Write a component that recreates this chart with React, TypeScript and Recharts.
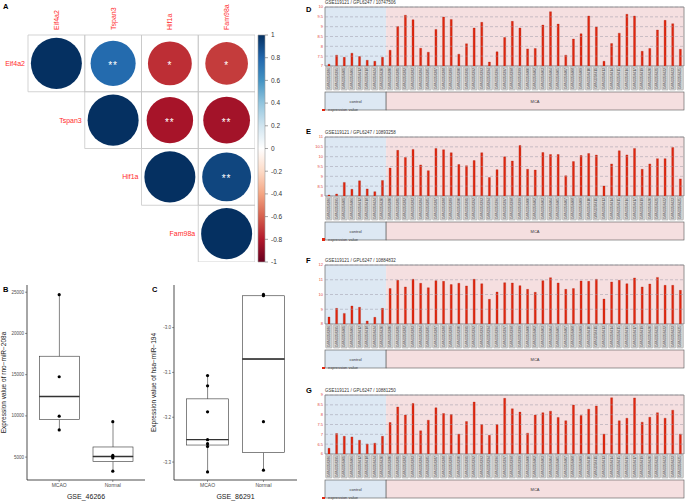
import React from "react";
import {
  ComposedChart,
  ScatterChart,
  BarChart,
  Bar,
  Scatter,
  XAxis,
  YAxis,
  ZAxis,
  ReferenceArea,
  ReferenceLine,
} from "recharts";

const FONT = "'Liberation Sans', Arial, Helvetica, sans-serif";
const LABEL_RED = "#ff2b2b";

// ---------- A: correlation matrix ----------
const genes = ["Eif4a2", "Tspan3", "Hif1a", "Fam98a"];
const corrRow = [0, 0, 0, 0, 1, 1, 1, 2, 2, 3];
const corrCol = [0, 1, 2, 3, 1, 2, 3, 2, 3, 3];
const corrVal = [1, 0.78, -0.74, -0.7, 1, -0.83, -0.84, 1, 0.92, 1];
const corrSig = ["", "**", "*", "*", "", "**", "**", "", "**", ""];
const colorbarTicks = [1, 0.8, 0.6, 0.4, 0.2, 0, -0.2, -0.4, -0.6, -0.8, -1];
// RdBu palette, from +1 (top) to -1 (bottom)
const rdbu = ["#053061", "#2166AC", "#4393C3", "#92C5DE", "#D1E5F0", "#FFFFFF", "#FDDBC7", "#F4A582", "#D6604D", "#B2182B", "#67001F"];

// ---------- B / C: box plots ----------
const boxGroups = ["MCAO", "Normal"];
const bMin = [8300, 3300];
const bQ1 = [9545, 4470];
const bMed = [12355, 5080];
const bQ3 = [17237, 6230];
const bMax = [24700, 9300];
const bMcaoPts = [24700, 14750, 9960, 8300];
const bNormalPts = [9300, 5200, 5050, 4900, 3300];
const bTicks = [5000, 10000, 15000, 20000, 25000];

const cMin = [-3.322, -3.318];
const cQ1 = [-3.262, -3.279];
const cMed = [-3.25, -3.07];
const cQ3 = [-3.159, -2.929];
const cMax = [-3.107, -2.927];
const cMcaoPts = [-3.107, -3.13, -3.188, -3.25, -3.259, -3.265, -3.322];
const cNormalPts = [-2.926, -2.929, -3.21, -3.318];
const cTicks = [-3.3, -3.2, -3.1, -3.0];

// ---------- D-G: GEO profiles ----------
const ctrlSamples = ["GSM3358386", "GSM3358395", "GSM3358401", "GSM3358406", "GSM3358412", "GSM3358418", "GSM3358424", "GSM3358430"];
const mcaSamples = [
  "GSM3358380", "GSM3358381", "GSM3358382", "GSM3358383", "GSM3358384", "GSM3358385", "GSM3358387", "GSM3358388",
  "GSM3358389", "GSM3358390", "GSM3358391", "GSM3358392", "GSM3358393", "GSM3358394", "GSM3358396", "GSM3358397",
  "GSM3358398", "GSM3358399", "GSM3358400", "GSM3358402", "GSM3358403", "GSM3358404", "GSM3358405", "GSM3358407",
  "GSM3358408", "GSM3358409", "GSM3358410", "GSM3358411", "GSM3358413", "GSM3358414", "GSM3358415", "GSM3358416",
  "GSM3358417", "GSM3358419", "GSM3358420", "GSM3358421", "GSM3358422", "GSM3358423", "GSM3358425",
];

const dCtrl = [7.09, 7.55, 7.44, 7.65, 7.48, 7.29, 7.24, 7.44];
const dMca = [7.8, 9.01, 9.58, 9.35, 7.9, 7.7, 8.86, 9.49, 9.37, 7.6, 8.13, 8.93, 9.22, 7.2, 7.72, 8.45, 9.27, 8.93, 7.87, 7.89, 9.08, 9.76, 9.13, 7.55, 8.37, 8.64, 9.54, 8.98, 7.24, 8.14, 8.67, 9.63, 9.54, 7.75, 7.89, 8.83, 9.32, 9.15, 7.85];
const dTicks = [7, 7.5, 8, 8.5, 9, 9.5, 10];

const eCtrl = [8.05, 8.1, 8.69, 8.34, 8.77, 8.36, 8.22, 8.79];
const eMca = [9.42, 10.32, 9.96, 10.37, 9.58, 9.29, 10.42, 10.35, 10.2, 9.6, 9.54, 9.8, 10.2, 8.94, 9.34, 9.99, 9.78, 10.57, 9.36, 9.32, 10.21, 10.11, 10.11, 9.03, 9.75, 10.06, 10.16, 10.08, 8.51, 9.63, 10.3, 10.09, 10.42, 9.36, 9.63, 9.9, 9.9, 10.47, 8.87];
const eTicks = [8, 8.5, 9, 9.5, 10, 10.5, 11];

const fCtrl = [8.47, 9.06, 8.72, 9.22, 9.13, 8.2, 8.45, 9.06];
const fMca = [10.4, 10.96, 10.51, 11.03, 10.76, 10.46, 10.94, 10.89, 10.67, 10.76, 10.58, 11.03, 10.73, 9.67, 10.17, 10.8, 10.78, 10.6, 10.35, 10.15, 10.94, 11.14, 10.78, 10.35, 10.4, 10.92, 10.89, 11.03, 9.69, 10.85, 10.96, 10.73, 11.12, 10.51, 10.71, 11.16, 10.62, 10.62, 10.28];
const fTicks = [8, 9, 10, 11, 12];

const gCtrl = [6.29, 7.04, 6.9, 6.87, 6.7, 6.51, 6.55, 6.9];
const gMca = [7.6, 8.39, 7.98, 8.57, 7.18, 7.72, 8.35, 8.06, 8.01, 7.01, 7.65, 8.64, 7.5, 6.95, 7.5, 8.83, 8.3, 8.13, 7.06, 7.98, 8.1, 8.18, 7.86, 7.69, 8.49, 7.96, 8.28, 8.44, 7.01, 8.86, 7.69, 7.82, 8.85, 7.62, 7.87, 8.1, 7.82, 8.23, 7.01];
const gTicks = [6, 6.5, 7, 7.5, 8, 8.5, 9];

// ---------- helpers ----------
const hexRgb = (h: string) => [1, 3, 5].map((k) => parseInt(h.slice(k, k + 2), 16));

function corrColor(r: number) {
  const t = ((1 - r) / 2) * (rdbu.length - 1);
  const i = Math.min(Math.floor(t), rdbu.length - 2);
  const f = t - i;
  const a = hexRgb(rdbu[i]);
  const b = hexRgb(rdbu[i + 1]);
  return `rgb(${a.map((v, k) => Math.round(v + (b[k] - v) * f)).join(",")})`;
}

const corrData = corrVal.map((v, k) => ({ x: corrCol[k], y: corrRow[k], r: v, a: Math.abs(v), sig: corrSig[k] }));
const rowLabelData = genes.map((g, i) => ({ x: i - 0.5, y: i, label: g }));

const CorrCircle = (p: any) => {
  const rad = p.size ? Math.sqrt(p.size / Math.PI) : (p.width || 0) / 2;
  const d = p.payload;
  return (
    <g>
      <circle cx={p.cx} cy={p.cy} r={rad} fill={corrColor(d.r)} />
      {d.sig ? (
        <text x={p.cx} y={p.cy + 5.5} textAnchor="middle" fontSize={10} fill="#fff" letterSpacing={1}>
          {d.sig}
        </text>
      ) : null}
    </g>
  );
};

const RowLabel = (p: any) => (
  <text x={p.cx - 3} y={p.cy + 2.5} textAnchor="end" fontSize={7} fill={LABEL_RED}>
    {p.payload.label}
  </text>
);

const ColTick = (p: any) => (
  <text transform={`translate(${p.x + 2.5},${p.y - 5}) rotate(-90)`} fontSize={7} fill={LABEL_RED}>
    {genes[p.payload.value]}
  </text>
);

function CorrPanel() {
  return (
    <>
      <div style={{ position: "absolute", left: 0, top: 0 }}>
        <ScatterChart width={255} height={262} margin={{ top: 0, right: 0, bottom: 0, left: 28 }}>
          <XAxis type="number" dataKey="x" orientation="top" domain={[-0.5, 3.5]} ticks={[0, 1, 2, 3]} height={35} tickSize={0} tickMargin={0} axisLine={false} tickLine={false} tick={ColTick} interval={0} />
          <YAxis type="number" dataKey="y" domain={[-0.5, 3.5]} reversed hide />
          <ZAxis type="number" dataKey="a" domain={[0, 1]} range={[0, 2043]} />
          {corrData.map((d, k) => (
            <ReferenceArea key={k} x1={d.x - 0.5} x2={d.x + 0.5} y1={d.y - 0.5} y2={d.y + 0.5} fill="none" stroke="#c8c8c8" strokeWidth={0.8} />
          ))}
          <Scatter data={corrData} shape={CorrCircle} isAnimationActive={false} />
          <Scatter data={rowLabelData} shape={RowLabel} isAnimationActive={false} />
        </ScatterChart>
      </div>
      <div style={{ position: "absolute", left: 250, top: 0 }}>
        <BarChart width={50} height={270} data={[{ k: "cb", lo: colorbarTicks[colorbarTicks.length - 1], hi: colorbarTicks[0] }]} margin={{ top: 35, right: 0, bottom: 8, left: 8 }} barCategoryGap={0}>
          <XAxis dataKey="k" hide />
          <YAxis orientation="right" type="number" domain={[-1, 1]} ticks={colorbarTicks} width={35} axisLine={false} tickSize={3} tickMargin={3} tickLine={{ stroke: "#666", strokeWidth: 0.6 }} tick={{ fontSize: 6.5, fill: "#333" }} interval={0} />
          <Bar dataKey={(d: any) => [d.lo, d.hi]} fill="url(#rdbuGrad)" stroke="#9a9a9a" strokeWidth={0.6} isAnimationActive={false} />
        </BarChart>
      </div>
    </>
  );
}

// ---------- box plot ----------
const Empty = () => <g />;
const Whisker = (p: any) =>
  p.height > 0 ? <line x1={p.x + p.width / 2} x2={p.x + p.width / 2} y1={p.y} y2={p.y + p.height} stroke="#333" strokeWidth={0.6} /> : <g />;
const BoxLow = (p: any) => <rect x={p.x} y={p.y} width={p.width} height={Math.max(p.height, 0)} fill="#fff" stroke="#333" strokeWidth={0.6} />;
const BoxHigh = (p: any) => (
  <g>
    <rect x={p.x} y={p.y} width={p.width} height={Math.max(p.height, 0)} fill="#fff" stroke="#333" strokeWidth={0.6} />
    <line x1={p.x} x2={p.x + p.width} y1={p.y + p.height} y2={p.y + p.height} stroke="#333" strokeWidth={1.4} />
  </g>
);
const Dot = (p: any) => <circle cx={p.cx} cy={p.cy} r={1.6} fill="#000" />;

function BoxPanel(props: any) {
  const { left, width, yWidth, mins, q1s, meds, q3s, maxs, pts, domain, ticks, fmt, yTitle, xTitle, barSize, pad } = props;
  const rows = boxGroups.map((g, i) => ({
    g,
    base: mins[i],
    w1: q1s[i] - mins[i],
    b1: meds[i] - q1s[i],
    b2: q3s[i] - meds[i],
    w2: maxs[i] - q3s[i],
  }));
  return (
    <div style={{ position: "absolute", left, top: 280 }}>
      <ComposedChart width={width} height={221} data={rows} margin={{ top: 5, right: 0, bottom: 0, left: 0 }}>
        <XAxis
          dataKey="g"
          type="category"
          allowDuplicatedCategory={false}
          height={21}
          padding={{ left: pad, right: pad }}
          tick={{ fontSize: 5, fill: "#4d4d4d" }}
          tickSize={2}
          tickMargin={1}
          axisLine={{ stroke: "#000", strokeWidth: 0.7 }}
          tickLine={{ stroke: "#333", strokeWidth: 0.5 }}
          label={{ value: xTitle, position: "insideBottom", offset: 2, fontSize: 7, fill: "#1a1a1a" }}
        />
        <YAxis
          type="number"
          domain={domain}
          allowDataOverflow
          ticks={ticks}
          tickFormatter={fmt}
          width={yWidth}
          tick={{ fontSize: 4.5, fill: "#4d4d4d" }}
          tickSize={2}
          tickMargin={1}
          axisLine={{ stroke: "#000", strokeWidth: 0.7 }}
          tickLine={{ stroke: "#333", strokeWidth: 0.5 }}
          label={{ value: yTitle, angle: -90, position: "insideLeft", offset: 4, style: { textAnchor: "middle" }, fontSize: 6.5, fill: "#1a1a1a" }}
        />
        <Bar dataKey="base" stackId="box" barSize={barSize} shape={Empty} isAnimationActive={false} />
        <Bar dataKey="w1" stackId="box" barSize={barSize} shape={Whisker} isAnimationActive={false} />
        <Bar dataKey="b1" stackId="box" barSize={barSize} shape={BoxLow} isAnimationActive={false} />
        <Bar dataKey="b2" stackId="box" barSize={barSize} shape={BoxHigh} isAnimationActive={false} />
        <Bar dataKey="w2" stackId="box" barSize={barSize} shape={Whisker} isAnimationActive={false} />
        <Scatter data={pts} dataKey="v" shape={Dot} isAnimationActive={false} />
      </ComposedChart>
    </div>
  );
}

// ---------- GEO profile ----------
const GEO_PLOT_W = 359;
const allSamples = [...ctrlSamples, ...mcaSamples];

function makeSampleTick() {
  const band = GEO_PLOT_W / allSamples.length;
  return (p: any) => {
    const { x, y, payload } = p;
    let group: any = null;
    if (payload.value === ctrlSamples[0]) group = { name: "control", n: ctrlSamples.length, fill: "#dde8f3" };
    if (payload.value === mcaSamples[0]) group = { name: "MCA", n: mcaSamples.length, fill: "#f5dfe0" };
    return (
      <g>
        <rect x={x - band / 2 + 0.6} y={y + 1} width={band - 1.2} height={23} rx={0.8} fill="#d4d4d4" stroke="#8a8a8a" strokeWidth={0.4} />
        <text transform={`translate(${x + 1.2},${y + 12.5}) rotate(-90)`} textAnchor="middle" fontSize={3.4} fill="#444">
          {payload.value}
        </text>
        {group ? (
          <g>
            <rect x={x - band / 2} y={y + 26} width={group.n * band} height={18} fill={group.fill} stroke="#555" strokeWidth={0.6} />
            <text x={x - band / 2 + (group.n * band) / 2} y={y + 36.5} textAnchor="middle" fontSize={4} fill="#333">
              {group.name}
            </text>
          </g>
        ) : null}
      </g>
    );
  };
}

function GeoPanel(props: any) {
  const { top, title, ctrl, mca, ticks } = props;
  const vals = [...ctrl, ...mca];
  const data = allSamples.map((s, i) => ({ s, v: vals[i] }));
  return (
    <>
      <div style={{ position: "absolute", left: 325, top, fontSize: 4.5, lineHeight: "6px", color: "#333", whiteSpace: "nowrap" }}>{title}</div>
      <div style={{ position: "absolute", left: 305, top }}>
        <ComposedChart width={380} height={116} data={data} margin={{ top: 7, right: 1, bottom: 0, left: 0 }}>
          <XAxis dataKey="s" type="category" interval={0} height={50} tickSize={0} tickMargin={0} axisLine={false} tickLine={false} tick={makeSampleTick()} />
          <YAxis type="number" domain={[ticks[0], ticks[ticks.length - 1]]} allowDataOverflow ticks={ticks} width={20} axisLine={false} tickLine={false} tickSize={1} tickMargin={1} tick={{ fontSize: 4, fill: "#e0443a" }} interval={0} />
          <ReferenceArea x1={ctrlSamples[0]} x2={ctrlSamples[ctrlSamples.length - 1]} fill="#dde8f3" fillOpacity={1} />
          <ReferenceArea x1={mcaSamples[0]} x2={mcaSamples[mcaSamples.length - 1]} fill="#f5dfe0" fillOpacity={1} />
          {ticks.map((t: number) => (
            <ReferenceLine key={t} y={t} stroke="#9c9aa8" strokeWidth={0.5} strokeDasharray="3 2" />
          ))}
          <Bar dataKey="v" barSize={2} fill="#e2260f" stroke="#a81a08" strokeWidth={0.3} isAnimationActive={false} />
          <ReferenceArea x1={allSamples[0]} x2={allSamples[allSamples.length - 1]} fill="none" stroke="#7a7a7a" strokeWidth={0.8} />
        </ComposedChart>
      </div>
      <div style={{ position: "absolute", left: 322, top: top + 108.5, width: 2.5, height: 2.5, background: "#e2260f" }} />
      <div style={{ position: "absolute", left: 328, top: top + 107, fontSize: 4, lineHeight: "5px", color: "#444", whiteSpace: "nowrap" }}>expression value</div>
    </>
  );
}

const letter = (t: string, left: number, top: number) => (
  <div style={{ position: "absolute", left, top, fontSize: 7.5, fontWeight: "bold", lineHeight: "8px" }}>{t}</div>
);

export default function App() {
  const bPts = [...bMcaoPts.map((v) => ({ g: boxGroups[0], v })), ...bNormalPts.map((v) => ({ g: boxGroups[1], v }))];
  const cPts = [...cMcaoPts.map((v) => ({ g: boxGroups[0], v })), ...cNormalPts.map((v) => ({ g: boxGroups[1], v }))];
  return (
    <div style={{ position: "absolute", left: 0, top: 0, width: 685, height: 501, background: "#fff", fontFamily: FONT, overflow: "hidden" }}>
      <svg width={0} height={0} style={{ position: "absolute" }}>
        <defs>
          <linearGradient id="rdbuGrad" x1="0" y1="0" x2="0" y2="1">
            {rdbu.map((c, i) => (
              <stop key={i} offset={i / (rdbu.length - 1)} stopColor={c} />
            ))}
          </linearGradient>
        </defs>
      </svg>
      <CorrPanel />
      <BoxPanel
        left={0}
        width={145}
        yWidth={27}
        pad={5.4}
        barSize={40}
        mins={bMin}
        q1s={bQ1}
        meds={bMed}
        q3s={bQ3}
        maxs={bMax}
        pts={bPts}
        domain={[2225, 25875]}
        ticks={bTicks}
        fmt={(v: number) => String(v)}
        yTitle="Expression value of rno−miR−208a"
        xTitle="GSE_46266"
      />
      <BoxPanel
        left={150}
        width={147}
        yWidth={24}
        pad={5.6}
        barSize={42}
        mins={cMin}
        q1s={cQ1}
        meds={cMed}
        q3s={cQ3}
        maxs={cMax}
        pts={cPts}
        domain={[-3.34, -2.905]}
        ticks={cTicks}
        fmt={(v: number) => v.toFixed(1)}
        yTitle="Expression value of hsa−miR−194"
        xTitle="GSE_86291"
      />
      <GeoPanel top={0} title="GSE119121 / GPL6247 / 10747506" ctrl={dCtrl} mca={dMca} ticks={dTicks} />
      <GeoPanel top={129.7} title="GSE119121 / GPL6247 / 10893258" ctrl={eCtrl} mca={eMca} ticks={eTicks} />
      <GeoPanel top={258} title="GSE119121 / GPL6247 / 10884832" ctrl={fCtrl} mca={fMca} ticks={fTicks} />
      <GeoPanel top={388} title="GSE119121 / GPL6247 / 10881250" ctrl={gCtrl} mca={gMca} ticks={gTicks} />
      {letter("A", 3, 3)}
      {letter("B", 3, 286)}
      {letter("C", 152, 286)}
      {letter("D", 306, 6)}
      {letter("E", 306, 128)}
      {letter("F", 306, 257)}
      {letter("G", 306, 387)}
    </div>
  );
}
